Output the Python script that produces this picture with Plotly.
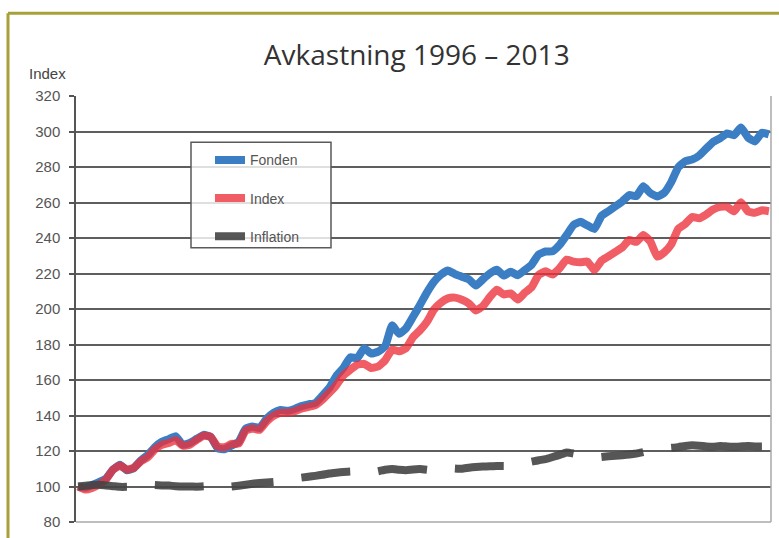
import plotly.graph_objects as go

# Month-step index (sampled), no x tick labels shown in the original
idx = list(range(100))

fonden = [100.0, 99.4, 100.8, 102.5, 104.5, 109.5, 112.3, 109.1, 110.4, 114.7,
          117.8, 122.2, 125.2, 126.7, 128.3, 123.5, 124.6, 126.9, 129.1, 128.0,
          121.5, 121.0, 123.1, 125.1, 132.5, 133.8, 133.0, 138.1, 141.5, 143.1,
          142.7, 143.7, 145.3, 146.3, 147.0, 151.1, 155.5, 162.2, 166.7, 172.8,
          172.3, 177.9, 174.9, 176.0, 179.0, 190.8, 186.0, 189.1, 195.6, 202.3,
          209.4, 215.4, 219.4, 221.7, 219.7, 218.2, 216.7, 213.2, 216.7, 220.0,
          222.1, 218.8, 221.0, 219.0, 221.9, 225.0, 230.7, 232.4, 232.5, 236.1,
          241.6, 247.3, 249.1, 247.1, 245.1, 252.4, 255.1, 257.9, 260.7, 264.2,
          263.6, 269.1, 265.3, 263.4, 265.5, 271.5, 279.8, 283.2, 284.2, 286.4,
          290.3, 294.1, 296.2, 298.9, 297.9, 302.2, 296.6, 294.4, 299.3, 298.4]

index_vals = [100.0, 98.3, 99.2, 101.1, 103.9, 109.5, 111.8, 109.5, 110.6, 114.2,
              116.5, 120.9, 123.5, 124.5, 126.1, 123.0, 123.5, 126.3, 128.6, 128.0,
              122.5, 122.1, 124.0, 124.1, 131.4, 132.7, 131.9, 136.6, 139.8, 141.5,
              141.5, 142.4, 143.9, 144.8, 145.8, 148.9, 152.8, 157.1, 162.6, 165.8,
              168.6, 169.1, 166.8, 167.6, 171.1, 177.1, 176.2, 177.9, 184.1, 188.0,
              192.8, 199.7, 203.6, 206.0, 206.4, 205.2, 203.1, 199.2, 201.6, 206.7,
              210.8, 208.2, 208.8, 205.3, 209.1, 212.3, 219.2, 221.2, 219.4, 223.0,
              227.8, 226.7, 226.3, 226.7, 221.8, 227.2, 229.7, 232.2, 234.7, 238.9,
              237.8, 241.7, 238.1, 229.5, 231.9, 236.4, 245.1, 247.9, 251.8, 251.1,
              253.2, 256.0, 257.5, 257.6, 255.0, 260.2, 255.0, 254.2, 255.6, 255.1]

N = None
inflation = [100.0, 100.4, 100.8, 101.0, 100.6, 100.2, 99.8, 99.8, N, N,
             N, 100.8, 100.6, 100.5, 100.2, 100.0, 100.0, 99.9, 100.1, N,
             N, N, 100.0, 100.4, 101.0, 101.6, 102.0, 102.3, 102.6, N,
             N, N, 105.0, 105.5, 106.0, 106.6, 107.3, 107.8, 108.2, 108.4,
             N, N, N, 108.6, 109.4, 109.8, 109.4, 109.2, 109.6, 109.8,
             109.4, N, N, N, 110.2, 110.0, 110.6, 111.0, 111.2, 111.4,
             111.6, 111.6, N, N, N, 114.0, 114.8, 115.4, 116.6, 117.8,
             119.2, 118.6, N, N, N, 116.6, 117.0, 117.3, 117.6, 118.0,
             118.6, 119.4, N, N, N, 121.8, 122.2, 122.8, 123.2, 123.0,
             122.6, 122.4, 122.8, 122.6, 122.4, 122.6, 122.8, 122.6, 122.6, N]

y_ticks = list(range(80, 321, 20))

W, H = 779, 538
L, R, T, B = 76, 8, 96, 10

fig = go.Figure()
fig.add_trace(go.Scatter(x=idx, y=fonden, mode="lines", name="Fonden",
                         legendgroup="a",
                         line=dict(color="#3b7ec4", width=8, shape="spline", smoothing=0.4)))
fig.add_trace(go.Scatter(x=idx, y=index_vals, mode="lines", name="Index",
                         legendgroup="b",
                         line=dict(color="rgba(236,48,58,0.78)", width=8, shape="spline", smoothing=0.4)))
fig.add_trace(go.Scatter(x=idx, y=inflation, mode="lines", name="Inflation",
                         legendgroup="c", connectgaps=False,
                         line=dict(color="rgba(68,68,68,0.9)", width=8, shape="spline", smoothing=0.4)))

pw = W - L - R
ph = H - T - B
def px_x(p):
    return (p - L) / pw
def px_y(p):
    return 1 - (p - T) / ph

shapes = [
    # light plot-area outline (right and bottom)
    dict(type="line", xref="paper", yref="paper", x0=1, x1=1, y0=0, y1=1,
         line=dict(color="#a8a8a8", width=1.5)),
    dict(type="line", xref="paper", yref="paper", x0=0, x1=1, y0=0, y1=0,
         line=dict(color="#a8a8a8", width=1.5)),
    # legend box
    dict(type="rect", xref="paper", yref="paper", x0=px_x(191), x1=px_x(331),
         y0=px_y(250), y1=px_y(143), layer="above",
         fillcolor="rgba(255,255,255,0.8)", line=dict(color="#5a5a5a", width=1.5)),
    # olive outer frame (left and top)
    dict(type="line", xref="paper", yref="paper", x0=px_x(8), x1=px_x(8),
         y0=px_y(12), y1=px_y(545), line=dict(color="#a7a139", width=3)),
    dict(type="line", xref="paper", yref="paper", x0=px_x(8), x1=px_x(790),
         y0=px_y(12), y1=px_y(12), line=dict(color="#a7a139", width=3)),
]

fig.update_layout(
    width=W, height=H,
    margin=dict(l=L, r=R, t=T, b=B),
    paper_bgcolor="white", plot_bgcolor="white",
    title=dict(text="Avkastning 1996 \u2013 2013", x=0.535, xanchor="center",
               y=1 - 55 / H, yanchor="middle", yref="container",
               font=dict(family="Open Sans", size=28, color="#333333")),
    showlegend=True,
    legend=dict(x=px_x(210), y=px_y(145), xanchor="left", yanchor="top",
                bgcolor="rgba(0,0,0,0)", borderwidth=0,
                font=dict(family="Liberation Sans, Arial", size=14, color="#555555"),
                tracegroupgap=17, itemwidth=30, traceorder="grouped"),
    shapes=shapes,
    annotations=[dict(text="Index", xref="paper", yref="paper", x=px_x(47), y=px_y(73),
                      xanchor="center", yanchor="middle", showarrow=False,
                      font=dict(family="Liberation Sans, Arial", size=15, color="#444444"))],
    xaxis=dict(range=[-0.3, 99.3], showticklabels=False, showgrid=False, zeroline=False,
               ticks="", showline=False),
    yaxis=dict(range=[80, 320], tickvals=y_ticks, showgrid=True, gridcolor="#5e5e5e",
               gridwidth=1.5, zeroline=False, showline=True, linecolor="#555555", linewidth=1.5,
               ticks="outside", ticklen=5, tickcolor="#555555", tickwidth=1.5,
               ticklabelstandoff=6,
               tickfont=dict(family="Liberation Sans, Arial", size=15, color="#555555")),
)

fig.write_html("out.html", post_script="document.body.style.margin='0';",
               config={"displayModeBar": False})
